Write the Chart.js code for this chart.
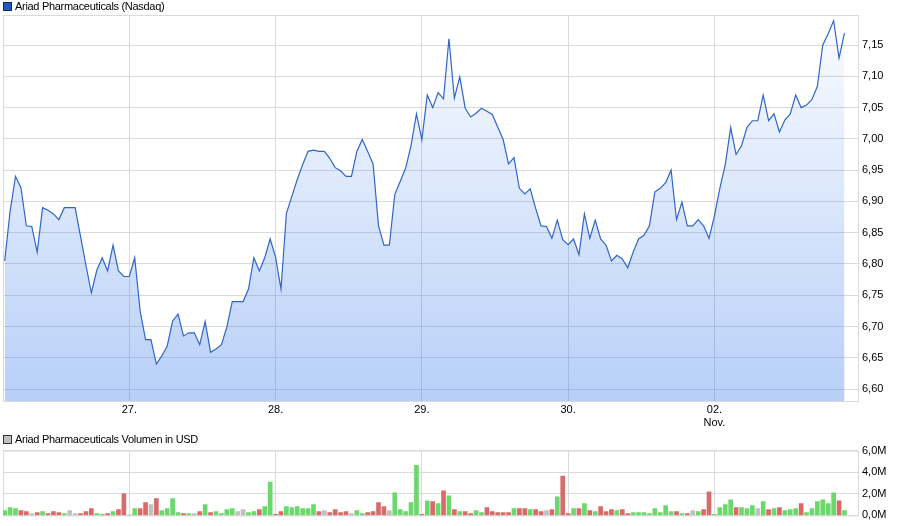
<!DOCTYPE html>
<html>
<head>
<meta charset="utf-8">
<script src="https://cdn.jsdelivr.net/npm/chart.js@4/dist/chart.umd.min.js"></script>
<style>
body { margin:0; background:#fff; width:900px; height:526px; position:relative; overflow:hidden; font-family:"Liberation Sans", Arial, sans-serif; }
.lg { position:absolute; left:3px; font-size:11px; line-height:13px; color:#000; letter-spacing:-0.3px; white-space:nowrap; z-index:2; }
.lg i { display:inline-block; width:7px; height:7px; border:1px solid #1b2440; margin-right:3px; vertical-align:-1px; }
canvas { position:absolute; left:0; }
</style>
</head>
<body>
<div class="lg" style="top:0px"><i style="background:#2358c0"></i>Ariad Pharmaceuticals (Nasdaq)</div>
<div class="lg" style="top:433px"><i style="background:#c0c0c0;border-color:#333"></i>Ariad Pharmaceuticals Volumen in USD</div>
<canvas id="priceChart" width="900" height="430" style="top:0"></canvas>
<canvas id="volChart" width="900" height="86" style="top:440px"></canvas>
<script>
// intraday quotes, one per interval, 26.10. - 02.11.
const prices = [
  6.805, 6.884, 6.940, 6.922, 6.861, 6.860, 6.819, 6.890, 6.886, 6.880,
  6.871, 6.890, 6.890, 6.890, 6.844, 6.798, 6.754, 6.790, 6.810, 6.789,
  6.830, 6.789, 6.780, 6.780, 6.810, 6.725, 6.679, 6.679, 6.640, 6.653,
  6.669, 6.709, 6.720, 6.685, 6.690, 6.690, 6.671, 6.708, 6.659, 6.664,
  6.671, 6.699, 6.740, 6.740, 6.740, 6.760, 6.810, 6.789, 6.810, 6.840,
  6.811, 6.760, 6.881, 6.908, 6.935, 6.959, 6.980, 6.982, 6.980, 6.980,
  6.969, 6.954, 6.949, 6.940, 6.940, 6.980, 6.999, 6.980, 6.960, 6.861,
  6.830, 6.830, 6.911, 6.932, 6.953, 6.989, 7.040, 6.999, 7.070, 7.050,
  7.074, 7.064, 7.160, 7.065, 7.099, 7.049, 7.035, 7.041, 7.049, 7.044,
  7.039, 7.019, 6.999, 6.960, 6.970, 6.921, 6.912, 6.920, 6.889, 6.861,
  6.860, 6.841, 6.870, 6.839, 6.831, 6.840, 6.815, 6.880, 6.841, 6.870,
  6.840, 6.830, 6.805, 6.814, 6.808, 6.794, 6.819, 6.840, 6.846, 6.861,
  6.915, 6.921, 6.930, 6.950, 6.871, 6.899, 6.861, 6.861, 6.871, 6.861,
  6.841, 6.877, 6.921, 6.959, 7.018, 6.975, 6.989, 7.018, 7.029, 7.029,
  7.070, 7.029, 7.040, 7.011, 7.030, 7.040, 7.070, 7.050, 7.054, 7.063,
  7.084, 7.150, 7.168, 7.189, 7.129, 7.169
];

// volume in million USD
const volumes = [
  0.45, 0.73, 0.64, 0.45, 0.36, 0.18, 0.27, 0.36, 0.18, 0.36,
  0.27, 0.18, 0.45, 0.18, 0.18, 0.36, 0.64, 0.18, 0.09, 0.18,
  0.36, 0.55, 2.00, 0.03, 0.64, 0.64, 1.18, 1.00, 1.55, 0.45,
  0.64, 1.55, 0.27, 0.18, 0.18, 0.18, 0.36, 1.00, 0.27, 0.36,
  0.18, 0.55, 0.64, 0.36, 0.55, 0.27, 0.36, 0.55, 0.82, 3.09,
  0.09, 0.36, 0.82, 0.73, 0.82, 0.64, 0.64, 1.00, 0.36, 0.45,
  0.27, 0.55, 0.27, 0.36, 0.18, 0.45, 0.18, 0.27, 0.36, 1.18,
  0.82, 0.45, 2.09, 0.55, 0.36, 1.18, 4.64, 0.09, 1.36, 1.27,
  1.09, 2.27, 1.82, 0.55, 0.36, 0.36, 0.18, 0.45, 0.27, 0.73,
  0.36, 0.27, 0.27, 0.27, 0.64, 0.64, 0.64, 0.55, 0.55, 0.36,
  0.45, 0.55, 1.73, 3.64, 0.18, 0.64, 0.64, 1.09, 0.45, 0.36,
  0.82, 0.36, 0.55, 0.45, 0.55, 0.18, 0.27, 0.27, 0.27, 0.18,
  0.64, 0.27, 0.91, 0.36, 0.36, 0.18, 0.18, 0.45, 0.36, 0.55,
  2.18, 0.09, 0.73, 1.00, 1.45, 0.73, 0.73, 0.64, 0.91, 0.64,
  1.27, 0.55, 0.64, 0.73, 0.45, 0.55, 0.64, 1.09, 0.27, 0.64,
  1.27, 1.45, 1.09, 2.09, 1.36, 0.45
];

// u = up, d = down, f = unchanged
const volDirection = (
  'uuuddfdudd' + 'duffddduud' + 'uddfuddfdu' + 'uuudufdudu' + 'uuuffuuduu' +
  'dduuuuuudf' + 'ddddfuuddd' + 'dfuuuuudud' + 'udududduud' + 'dddduddudd' +
  'fduddududu' + 'dddudduuuu' + 'uuuududfud' + 'duuuuduuuf' + 'ududuuuduu' +
  'uuuudu'
).split('');

const dayTickIdx = [23, 50, 77, 104, 131];
const dayLabels = ['27.', '28.', '29.', '30.', ['02.', 'Nov.']];
const priceTicks = [6.60, 6.65, 6.70, 6.75, 6.80, 6.85, 6.90, 6.95, 7.00, 7.05, 7.10, 7.15];
const volTicks = [0, 2, 4, 6];

const gridColor = '#dadada';
const tickFont = { family: '"Liberation Sans", Arial, sans-serif', size: 11 };
const xMin = -0.31, xMax = 157.5;
const dirColors = { u: '#6bd86b', d: '#d96a6a', f: '#c0c0c0' };

// plot frame on all four sides
const frame = {
    id: 'frame',
    beforeDatasetsDraw(chart) {
        const a = chart.chartArea;
        const c = chart.ctx;
        c.save();
        c.strokeStyle = gridColor;
        c.lineWidth = 1;
        c.strokeRect(a.left + 0.5, a.top + 0.5, a.right - a.left, a.bottom - a.top);
        c.restore();
    }
};

function dayAxis(height, showLabels) {
    return {
        type: 'linear',
        min: xMin,
        max: xMax,
        offset: false,
        afterBuildTicks: s => { s.ticks = dayTickIdx.map(v => ({ value: v })); },
        afterFit: s => { s.height = height; },
        grid: { color: gridColor, drawTicks: false, offset: false },
        border: { display: false },
        ticks: {
            display: showLabels,
            autoSkip: false,
            maxRotation: 0,
            padding: 2,
            color: '#000',
            font: tickFont,
            callback: (v, i) => dayLabels[i]
        }
    };
}

Chart.defaults.font.family = tickFont.family;

new Chart(document.getElementById('priceChart').getContext('2d'), {
    type: 'line',
    data: {
        datasets: [{
            data: prices.map((p, i) => ({ x: i, y: p })),
            borderColor: '#3066c6',
            borderWidth: 1.2,
            pointRadius: 0,
            tension: 0,
            fill: 'start',
            backgroundColor: ctx => {
                const area = ctx.chart.chartArea;
                if (!area) return 'rgba(60,125,235,0.2)';
                const g = ctx.chart.ctx.createLinearGradient(0, area.top, 0, area.bottom);
                g.addColorStop(0, 'rgba(60,125,235,0.02)');
                g.addColorStop(1, 'rgba(60,125,235,0.37)');
                return g;
            }
        }]
    },
    options: {
        responsive: false,
        animation: false,
        layout: { padding: { top: 15, left: 3, right: 0, bottom: 0 } },
        plugins: { legend: { display: false }, tooltip: { enabled: false } },
        scales: {
            x: dayAxis(29, true),
            y: {
                position: 'right',
                min: 6.581,
                max: 7.198,
                afterBuildTicks: s => { s.ticks = priceTicks.map(v => ({ value: v })); },
                afterFit: s => { s.width = 42; },
                grid: { color: gridColor, drawTicks: false },
                border: { display: false },
                ticks: {
                    padding: 4,
                    color: '#000',
                    font: tickFont,
                    callback: v => v.toFixed(2).replace('.', ',')
                }
            }
        }
    },
    plugins: [frame]
});

new Chart(document.getElementById('volChart').getContext('2d'), {
    type: 'bar',
    data: {
        datasets: [{
            data: volumes.map((v, i) => ({ x: i, y: v })),
            backgroundColor: volDirection.map(d => dirColors[d]),
            barThickness: 4,
            borderWidth: 0
        }]
    },
    options: {
        responsive: false,
        animation: false,
        layout: { padding: { top: 9, left: 3, right: 0, bottom: 0 } },
        plugins: { legend: { display: false }, tooltip: { enabled: false } },
        scales: {
            x: dayAxis(10, false),
            y: {
                position: 'right',
                min: 0,
                max: 6,
                afterBuildTicks: s => { s.ticks = volTicks.map(v => ({ value: v })); },
                afterFit: s => { s.width = 42; },
                grid: { color: gridColor, drawTicks: false },
                border: { display: false },
                ticks: {
                    padding: 4,
                    color: '#000',
                    font: tickFont,
                    callback: v => v.toFixed(1).replace('.', ',') + 'M'
                }
            }
        }
    },
    plugins: [frame]
});
</script>
</body>
</html>
